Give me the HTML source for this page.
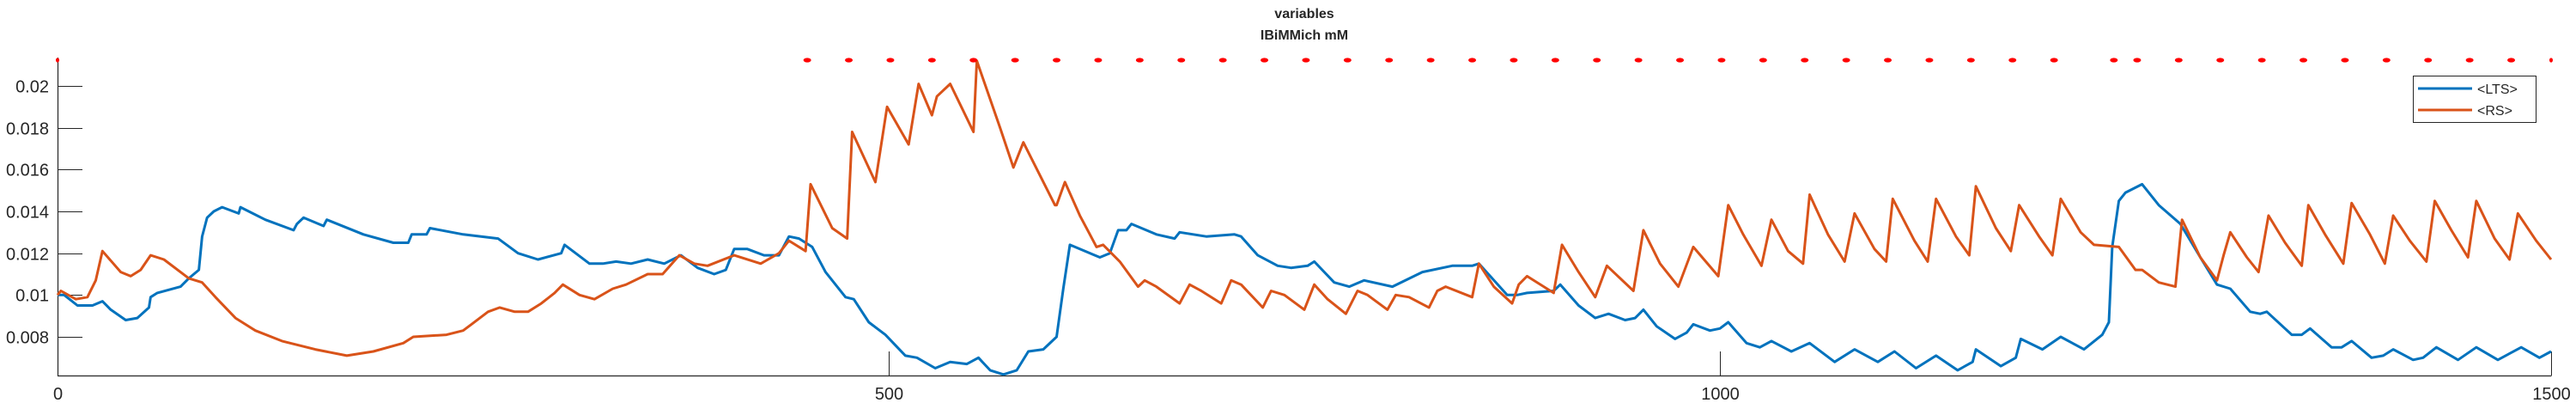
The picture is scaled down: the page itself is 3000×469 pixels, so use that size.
<!DOCTYPE html>
<html><head><meta charset="utf-8"><style>
html,body{margin:0;padding:0;background:#fff;}
svg{display:block;}
text{font-family:"Liberation Sans",sans-serif;fill:#262626;}
</style></head><body>
<svg id="chart" width="3000" height="469" viewBox="0 0 3000 469" xmlns="http://www.w3.org/2000/svg">
<text x="1519" y="21" text-anchor="middle" font-size="16" font-weight="bold">variables</text>
<text x="1519" y="46" text-anchor="middle" font-size="16" font-weight="bold">IBiMMich mM</text>
<g id="axes"></g>
<g id="series"></g>
<g>
<rect x="2810.5" y="88.5" width="143" height="54" fill="#fff" stroke="#262626" stroke-width="1"/>
<line x1="2816" y1="103" x2="2879" y2="103" stroke="#0072BD" stroke-width="3"/>
<text x="2885" y="109" font-size="16">&lt;LTS&gt;</text>
<line x1="2816" y1="128" x2="2879" y2="128" stroke="#D95319" stroke-width="3"/>
<text x="2885" y="134" font-size="16">&lt;RS&gt;</text>
</g>
</svg>
<script>
const xTicks = [0, 500, 1000, 1500];
const yTicks = [0.008, 0.01, 0.012, 0.014, 0.016, 0.018, 0.02];
const yTickLabels = ["0.008", "0.01", "0.012", "0.014", "0.016", "0.018", "0.02"];
const ltsT = [0,4,12,21,27,32,41,48,55,56,60,74,79,85,87,90,94,99,109,110,125,142,144,148,160,162,184,202,211,213,222,224,244,265,277,289,303,305,320,328,336,345,355,365,375,385,395,402,407,415,425,434,440,446,454,462,474,479,488,498,510,517,528,537,547,554,561,569,577,584,593,601,605,609,615,627,633,638,643,646,661,672,675,691,708,712,722,734,742,752,756,768,777,786,803,821,839,851,855,872,878,884,900,904,915,925,933,943,949,954,962,973,980,984,994,1000,1005,1016,1024,1031,1043,1054,1069,1081,1095,1105,1118,1130,1143,1152,1154,1169,1178,1181,1194,1205,1219,1230,1234,1236,1240,1244,1254,1264,1277,1289,1299,1307,1319,1325,1329,1344,1350,1355,1368,1374,1380,1392,1399,1405,1417,1423,1431,1444,1455,1468,1482,1493,1500];
const ltsV = [0.0100,0.0100,0.0095,0.0095,0.0097,0.0093,0.0088,0.0089,0.0094,0.0099,0.0101,0.0104,0.0108,0.0112,0.0128,0.0137,0.0140,0.0142,0.0139,0.0142,0.0136,0.0131,0.0134,0.0137,0.0133,0.0136,0.0129,0.0125,0.0125,0.0129,0.0129,0.0132,0.0129,0.0127,0.0120,0.0117,0.0120,0.0124,0.0115,0.0115,0.0116,0.0115,0.0117,0.0115,0.0119,0.0113,0.0110,0.0112,0.0122,0.0122,0.0119,0.0119,0.0128,0.0127,0.0123,0.0111,0.0099,0.0098,0.0087,0.0081,0.0071,0.0070,0.0065,0.0068,0.0067,0.0070,0.0064,0.0062,0.0064,0.0073,0.0074,0.0080,0.0103,0.0124,0.0122,0.0118,0.0120,0.0131,0.0131,0.0134,0.0129,0.0127,0.0130,0.0128,0.0129,0.0128,0.0119,0.0114,0.0113,0.0114,0.0116,0.0106,0.0104,0.0107,0.0104,0.0111,0.0114,0.0114,0.0115,0.0100,0.0100,0.0101,0.0102,0.0105,0.0095,0.0089,0.0091,0.0088,0.0089,0.0093,0.0085,0.0079,0.0082,0.0086,0.0083,0.0084,0.0087,0.0077,0.0075,0.0078,0.0073,0.0077,0.0068,0.0074,0.0068,0.0073,0.0065,0.0071,0.0064,0.0068,0.0074,0.0066,0.0070,0.0079,0.0074,0.0080,0.0074,0.0081,0.0087,0.0123,0.0145,0.0149,0.0153,0.0143,0.0134,0.0118,0.0105,0.0103,0.0092,0.0091,0.0092,0.0081,0.0081,0.0084,0.0075,0.0075,0.0078,0.0070,0.0071,0.0074,0.0069,0.0070,0.0075,0.0069,0.0075,0.0069,0.0075,0.0070,0.0073];
const rsT = [0,2,11,18,23,27,38,44,50,56,64,79,87,95,107,119,135,155,174,190,208,214,234,244,249,259,266,275,283,291,299,304,314,323,334,342,355,364,374,383,391,407,423,434,440,450,453,466,475,478,492,499,512,518,526,529,537,551,553,567,575,581,600,601,606,615,625,629,639,650,654,661,675,681,688,700,706,712,725,730,738,750,756,764,775,782,788,800,805,813,825,830,835,851,855,864,875,879,884,900,905,915,925,932,948,954,964,975,984,999,1005,1014,1025,1031,1041,1050,1054,1065,1075,1081,1093,1100,1104,1117,1125,1130,1142,1150,1154,1166,1175,1180,1192,1200,1205,1217,1225,1240,1250,1254,1264,1274,1278,1289,1299,1303,1307,1317,1324,1330,1340,1350,1354,1364,1375,1380,1391,1400,1405,1415,1425,1430,1440,1450,1455,1466,1475,1480,1491,1500];
const rsV = [0.0100,0.0102,0.0098,0.0099,0.0107,0.0121,0.0111,0.0109,0.0112,0.0119,0.0117,0.0108,0.0106,0.0099,0.0089,0.0083,0.0078,0.0074,0.0071,0.0073,0.0077,0.0080,0.0081,0.0083,0.0086,0.0092,0.0094,0.0092,0.0092,0.0096,0.0101,0.0105,0.0100,0.0098,0.0103,0.0105,0.0110,0.0110,0.0119,0.0115,0.0114,0.0119,0.0115,0.0120,0.0126,0.0121,0.0153,0.0132,0.0127,0.0178,0.0154,0.0190,0.0172,0.0201,0.0186,0.0195,0.0201,0.0178,0.0212,0.0180,0.0161,0.0173,0.0143,0.0143,0.0154,0.0138,0.0123,0.0124,0.0116,0.0104,0.0107,0.0104,0.0096,0.0105,0.0102,0.0096,0.0107,0.0105,0.0094,0.0102,0.0100,0.0093,0.0105,0.0098,0.0091,0.0102,0.0100,0.0093,0.0100,0.0099,0.0094,0.0102,0.0104,0.0099,0.0115,0.0104,0.0096,0.0105,0.0109,0.0101,0.0124,0.0111,0.0099,0.0114,0.0102,0.0131,0.0115,0.0104,0.0123,0.0109,0.0143,0.0129,0.0114,0.0136,0.0121,0.0115,0.0148,0.0129,0.0116,0.0139,0.0122,0.0116,0.0146,0.0126,0.0116,0.0146,0.0128,0.0119,0.0152,0.0132,0.0121,0.0143,0.0128,0.0119,0.0146,0.0130,0.0124,0.0123,0.0112,0.0112,0.0106,0.0104,0.0136,0.0118,0.0107,0.0119,0.0130,0.0118,0.0111,0.0138,0.0125,0.0114,0.0143,0.0129,0.0115,0.0144,0.0129,0.0115,0.0138,0.0126,0.0116,0.0145,0.0131,0.0118,0.0145,0.0127,0.0117,0.0139,0.0126,0.0117];
const markerT = [0,451,476,501,526,551,576,601,626,651,676,701,726,751,776,801,826,851,876,901,926,951,976,1001,1026,1051,1076,1101,1126,1151,1176,1201,1237,1251,1276,1301,1326,1351,1376,1401,1426,1451,1476,1500];

const X0 = 67, X1 = 2971, Y0 = 437, Y1 = 70;
const xMin = 0, xMax = 1500, yMin = 0.006151, yMax = 0.021233;
function xs(t){ return X0 + (t - xMin) / (xMax - xMin) * (X1 - X0); }
function ys(v){ return Y0 - (v - yMin) / (yMax - yMin) * (Y0 - Y1); }
const NS = "http://www.w3.org/2000/svg";
const axes = document.getElementById('axes');
const series = document.getElementById('series');
function mk(tag, attrs, parent){ const e = document.createElementNS(NS, tag); for (const k in attrs) e.setAttribute(k, attrs[k]); parent.appendChild(e); return e; }

const yAxis = mk('line', {x1:X0+0.5, y1:Y1-3, x2:X0+0.5, y2:Y0+0.5, stroke:'#262626','stroke-width':1.2}, axes);


const xAxis = mk('line', {x1:X0, y1:Y0+0.5, x2:X1+0.5, y2:Y0+0.5, stroke:'#262626','stroke-width':1.2}, axes);



yTicks.forEach((v, i) => {
  const y = Math.round(ys(v)) + 0.5;
  const tk = mk('line', {x1:X0, y1:y, x2:X0+29, y2:y, stroke:'#262626','stroke-width':1}, axes);
  
  
  const lb = mk('text', {x:57, y:y+7, 'text-anchor':'end', 'font-size':20}, axes);
  lb.textContent = yTickLabels[i];
  
  
});
xTicks.forEach(t => {
  const x = Math.round(xs(t)) + 0.5;
  const tk = mk('line', {x1:x, y1:Y0, x2:x, y2:Y0-28, stroke:'#262626','stroke-width':1}, axes);
  
  
  const lb = mk('text', {x:x, y:465, 'text-anchor':'middle', 'font-size':20}, axes);
  lb.textContent = String(t);
  
  
});

function pts(T, V){ return T.map((t, i) => xs(t).toFixed(1) + ',' + ys(Math.min(V[i], yMax)).toFixed(1)).join(' '); }
const lts = mk('polyline', {points:pts(ltsT, ltsV), fill:'none', stroke:'#0072BD','stroke-width':3,'stroke-linejoin':'round'}, series);


const rs = mk('polyline', {points:pts(rsT, rsV), fill:'none', stroke:'#D95319','stroke-width':3,'stroke-linejoin':'round'}, series);



markerT.forEach(t => {
  const m = mk('ellipse', {cx:xs(t), cy:Y1, rx:(t===0||t===1500)?2:4.5, ry:2.6, fill:'#FF0000'}, series);
  
  
});
</script>
</body></html>
